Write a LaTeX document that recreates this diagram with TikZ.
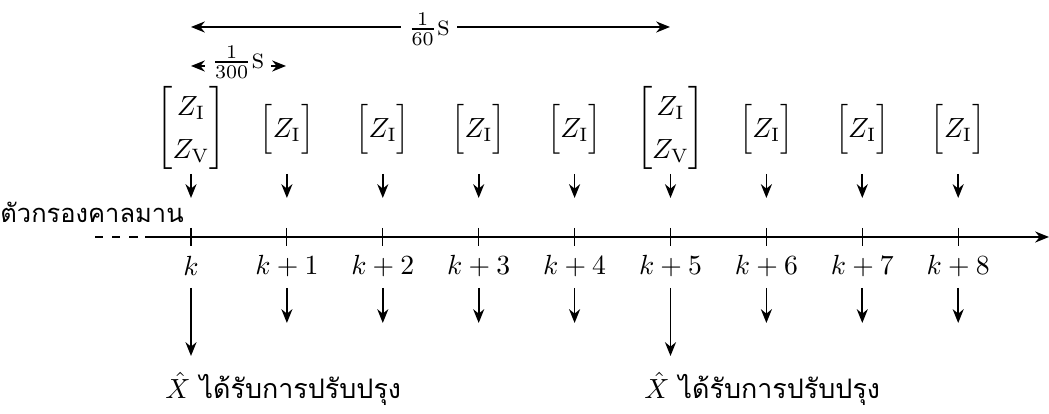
\documentclass[tikz,border=0pt]{standalone}
\usepackage{fontspec}
\usepackage{amsmath}
\newfontfamily\thaifont[Script=Thai]{Loma}
\usetikzlibrary{arrows.meta}
\begin{document}
\renewcommand{\arraystretch}{1.3}
\begin{tikzpicture}[x=0.361pt,y=-0.361pt,
  arr/.style={-{Stealth[length=5pt,width=4pt]},line width=0.6pt},
  darr/.style={{Stealth[length=5pt,width=4pt]}-{Stealth[length=5pt,width=4pt]},line width=0.6pt},
  tick/.style={line width=0.4pt},
  lbl/.style={inner sep=2.5pt,fill=white}]
\useasboundingbox (0,0) rectangle (1049,414);
% axis
\coordinate (a0) at (145,237);
\coordinate (a1) at (1049,237);
\draw[arr] (a0) -- (a1);
\coordinate (d0) at (95,237);
\coordinate (d1) at (139,237);
\draw[line width=0.5pt,dash pattern=on 3pt off 3.2pt] (d0) -- (d1);
% ticks and labels
\foreach \i/\lab in {0/k,1/k+1,2/k+2,3/k+3,4/k+4,5/k+5,6/k+6,7/k+7,8/k+8}{
  \pgfmathsetmacro{\xx}{191+95.9*\i}
  \coordinate (t\i) at (\xx,228);
  \coordinate (b\i) at (\xx,246);
  \draw[tick] (t\i) -- (b\i);
  \node (l\i) at (\xx,266) {$\lab$};
  \coordinate (ua\i) at (\xx,174);
  \coordinate (ub\i) at (\xx,198);
  \draw[arr] (ua\i) -- (ub\i);
}
% measurement vectors
\foreach \i in {1,2,3,4,6,7,8}{
  \pgfmathsetmacro{\xx}{191+95.9*\i}
  \node (z\i) at (\xx,129) {$\begin{bmatrix}Z_{\mathrm{I}}\end{bmatrix}$};
  \coordinate (da\i) at (\xx,288);
  \coordinate (db\i) at (\xx,323);
  \draw[arr] (da\i) -- (db\i);
}
\foreach \i in {0,5}{
  \pgfmathsetmacro{\xx}{191+95.9*\i}
  \node (z\i) at (\xx,128) {$\begin{bmatrix}Z_{\mathrm{I}}\\Z_{\mathrm{V}}\end{bmatrix}$};
  \coordinate (da\i) at (\xx,288);
  \coordinate (db\i) at (\xx,356);
  \draw[arr] (da\i) -- (db\i);
}
% Kalman filter label
\node[anchor=east,inner sep=1pt] (kf) at (187,212) {\fontsize{9.2}{10}\thaifont ตัวกรองคาลมาน};
% bottom labels
\node[anchor=west,inner sep=1pt] (u0) at (162,389) {$\hat{X}$\ {\fontsize{9.7}{11}\thaifont ได้รับการปรับปรุง}};
\node[anchor=west,inner sep=1pt] (u5) at (641,389) {$\hat{X}$\ {\fontsize{9.7}{11}\thaifont ได้รับการปรับปรุง}};
% timing arrows
\coordinate (p0) at (191,27);
\coordinate (p1) at (670,27);
\draw[darr] (p0) -- (p1);
\node[lbl] (s60) at (429,29) {$\frac{1}{60}$\textsc{s}};
\coordinate (q0) at (191,66);
\coordinate (q1) at (286,66);
\draw[darr] (q0) -- (q1);
\node[lbl] (s300) at (238,62) {$\frac{1}{300}$\textsc{s}};
\end{tikzpicture}
\end{document}
